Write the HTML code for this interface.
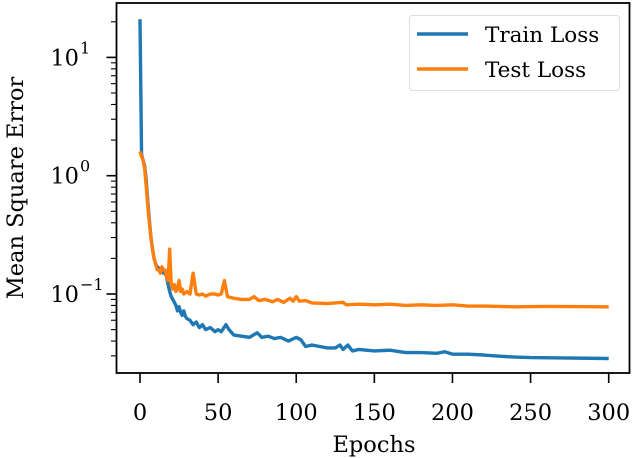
<!DOCTYPE html>
<html><head><meta charset="utf-8"><style>
html,body{margin:0;padding:0;background:#fff;}
svg{display:block;font-family:"DejaVu Serif","Liberation Serif",serif;}
</style></head><body>
<svg id="chart" width="634" height="458" viewBox="0 0 634 458" xmlns="http://www.w3.org/2000/svg">
<g id="series"></g>
<rect x="116.5" y="3" width="513" height="370" fill="none" stroke="#000" stroke-width="1.8"/>
<g id="axes"></g>
<text x="374" y="452" font-size="22.5" text-anchor="middle">Epochs</text>
<text transform="translate(23,188) rotate(-90)" font-size="22.5" text-anchor="middle">Mean Square Error</text>
<g>
<rect x="409.5" y="15.5" width="210" height="75" rx="3" fill="#fff" stroke="#ddd" stroke-width="1"/>
<line x1="417" y1="34" x2="468" y2="34" stroke="#1f77b4" stroke-width="3.5"/>
<text x="485" y="42" font-size="21.5">Train Loss</text>
<line x1="417" y1="69" x2="468" y2="69" stroke="#ff7f0e" stroke-width="3.5"/>
<text x="485" y="77" font-size="21.5">Test Loss</text>
</g>
</svg>
<script>
const trainEpochs=[0,1,2,3,4,5,6,7,8,9,10,11,12,14,15,16,17,18,19,20,21,22,23,24,25,26,27,28,29,30,32,34,36,38,40,42,45,48,50,52,55,57,60,65,70,75,78,82,86,90,95,100,103,106,110,115,120,125,128,130,133,136,140,150,160,170,180,190,195,200,210,220,230,240,250,270,300];
const trainLoss=[21,1.5,1.35,1.2,0.9,0.6,0.42,0.3,0.24,0.2,0.18,0.17,0.165,0.16,0.15,0.15,0.14,0.12,0.105,0.095,0.09,0.085,0.08,0.072,0.078,0.07,0.066,0.072,0.065,0.062,0.06,0.055,0.058,0.052,0.055,0.05,0.052,0.048,0.05,0.048,0.055,0.05,0.045,0.044,0.043,0.047,0.043,0.044,0.042,0.043,0.04,0.043,0.041,0.036,0.037,0.036,0.035,0.035,0.037,0.034,0.037,0.033,0.034,0.033,0.0335,0.032,0.032,0.0315,0.0325,0.031,0.031,0.0305,0.0298,0.0293,0.029,0.0288,0.0285];
const testEpochs=[0,1,2,3,4,5,6,7,8,9,10,11,12,13,14,15,16,17,18,19,20,21,22,23,24,25,26,27,28,30,32,34,36,38,40,42,45,48,50,52,54,56,60,65,70,73,76,80,85,88,92,96,98,100,102,106,110,120,130,132,140,150,160,170,180,190,200,210,220,240,260,300];
const testLoss=[1.6,1.45,1.35,1.15,0.8,0.55,0.4,0.3,0.24,0.2,0.18,0.16,0.16,0.15,0.17,0.16,0.16,0.14,0.13,0.24,0.12,0.11,0.12,0.105,0.11,0.13,0.105,0.11,0.1,0.105,0.1,0.15,0.1,0.098,0.1,0.096,0.1,0.1,0.098,0.1,0.13,0.095,0.092,0.09,0.09,0.095,0.088,0.09,0.086,0.09,0.085,0.092,0.087,0.095,0.087,0.088,0.084,0.083,0.085,0.081,0.082,0.081,0.082,0.08,0.081,0.08,0.081,0.079,0.079,0.078,0.0785,0.078];
const xTicks=[0,50,100,150,200,250,300];
const yDecades=[-1,0,1];

const NS="http://www.w3.org/2000/svg";
function X(v){return 140+v*(608.7-140)/300;}
function Y(v){return 175.7-Math.log10(v)*118.3;}
function mk(t,a,p){const e=document.createElementNS(NS,t);for(const k in a)e.setAttribute(k,a[k]);p.appendChild(e);return e;}
const axes=document.getElementById('axes'),series=document.getElementById('series');
function line(ep,vals,color,name){
  const pts=ep.map((e,i)=>X(e).toFixed(2)+","+Y(vals[i]).toFixed(2)).join(" ");
  const el=mk('polyline',{points:pts,fill:'none',stroke:color,'stroke-width':3.4,'stroke-linejoin':'round'},series);
  
  
}
line(trainEpochs,trainLoss,'#1f77b4','train-loss-line');
line(testEpochs,testLoss,'#ff7f0e','test-loss-line');
xTicks.forEach(t=>{
  const x=X(t);
  const tk=mk('line',{x1:x,x2:x,y1:373,y2:383,stroke:'#000','stroke-width':1.6},axes);
  
  
  const lb=mk('text',{x:x,y:420,'font-size':22.5,'text-anchor':'middle'},axes);
  lb.textContent=t;
  
  
});
for(let d=-2;d<=1;d++){
  for(let m=1;m<10;m++){
    const v=m*Math.pow(10,d);const y=Y(v);
    if(y<3||y>373)continue;
    const major=m===1;
    const tk=mk('line',{x1:major?106.5:111,x2:116.5,y1:y,y2:y,stroke:'#000','stroke-width':major?1.6:1.1},axes);
    
    
  }
}
yDecades.forEach(d=>{
  const y=Y(Math.pow(10,d));
  const lb=mk('text',{x:79,y:y+8,'font-size':22.5,'text-anchor':'end'},axes);
  lb.textContent='10';
  
  
  const sp=mk('text',{x:80,y:y-4,'font-size':16,'text-anchor':'start'},axes);
  sp.textContent=d<0?'\u2212'+Math.abs(d):String(d);
  
  
});
</script>
</body></html>
